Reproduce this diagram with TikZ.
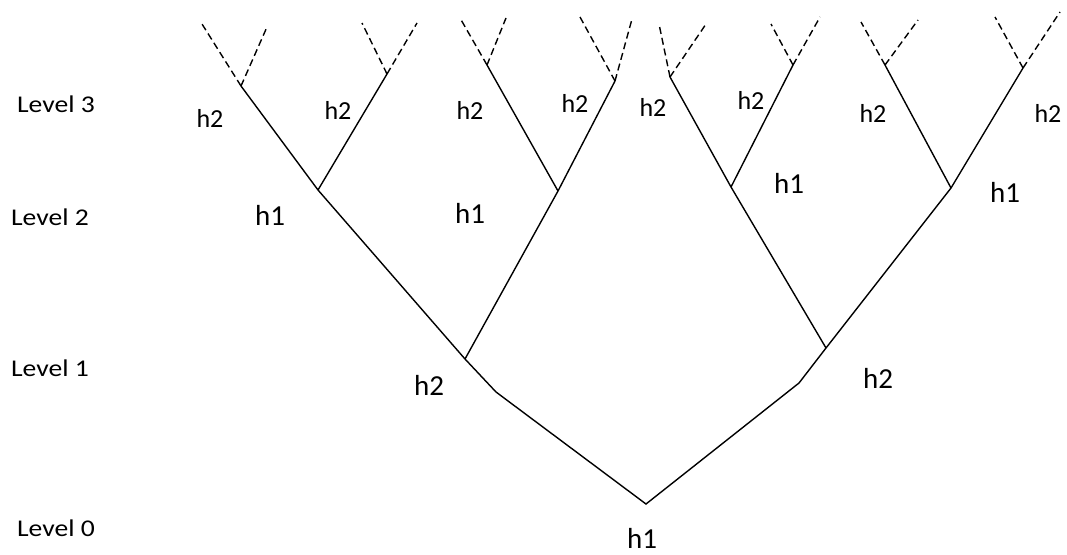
\documentclass[tikz,border=0pt]{standalone}
\usepackage{fontspec}
\setmainfont{Carlito}
\begin{document}
\begin{tikzpicture}[x=1pt,y=-1pt,
  edge/.style={line width=1.4pt},
  leafedge/.style={line width=1.4pt,dash pattern=on 7pt off 4pt},
  levellbl/.style={font=\fontsize{24}{28}\selectfont,inner sep=0pt,xscale=1.15,transform shape},
  biglbl/.style={font=\fontsize{29}{34}\selectfont,inner sep=0pt},
  smalllbl/.style={font=\fontsize{26}{30}\selectfont,inner sep=0pt}]
\useasboundingbox (0,0) rectangle (1067,554);

% branch points
\coordinate (R)  at (646,504);
\coordinate (Lb) at (496,392);
\coordinate (L1) at (465,359);
\coordinate (Rb) at (799,383);
\coordinate (R1) at (826,348);
\coordinate (B)  at (318,190);
\coordinate (D)  at (558,191);
\coordinate (F)  at (731,187);
\coordinate (G)  at (951,188);
\coordinate (A)  at (241,86);
\coordinate (C)  at (387,74);
\coordinate (E1) at (487,65);
\coordinate (E2) at (615,81);
\coordinate (E3) at (670,77);
\coordinate (E4) at (793,65);
\coordinate (E5) at (885,65);
\coordinate (E6) at (1023,68);

% open ends of the dashed branches
\coordinate (A1) at (202,24);  \coordinate (A2) at (267,27);
\coordinate (C1) at (362,23);  \coordinate (C2) at (417,23);
\coordinate (P1) at (460,18);  \coordinate (P2) at (506,18);
\coordinate (Q1) at (580,17);  \coordinate (Q2) at (632,19);
\coordinate (S1) at (659,24);  \coordinate (S2) at (706,24);
\coordinate (T1) at (771,24);  \coordinate (T2) at (820,17);
\coordinate (U1) at (861,22);  \coordinate (U2) at (918,20);
\coordinate (V1) at (995,17);  \coordinate (V2) at (1060,12);

% solid tree
\draw[edge] (L1) -- (Lb) -- (R) -- (Rb) -- (R1);
\draw[edge] (L1) -- (B);
\draw[edge] (L1) -- (D);
\draw[edge] (R1) -- (F);
\draw[edge] (R1) -- (G);
\draw[edge] (B) -- (A);
\draw[edge] (B) -- (C);
\draw[edge] (D) -- (E1);
\draw[edge] (D) -- (E2);
\draw[edge] (F) -- (E3);
\draw[edge] (F) -- (E4);
\draw[edge] (G) -- (E5);
\draw[edge] (G) -- (E6);

% dashed continuation
\foreach \p/\a/\b in {A/A1/A2, C/C1/C2, E1/P1/P2, E2/Q1/Q2, E3/S1/S2, E4/T1/T2, E5/U1/U2, E6/V1/V2}
  {\draw[leafedge] (\p) -- (\a); \draw[leafedge] (\p) -- (\b);}

% level captions
\node[levellbl] (lv3) at (56,104) {Level 3};
\node[levellbl] (lv2) at (50,217) {Level 2};
\node[levellbl] (lv1) at (50,368) {Level 1};
\node[levellbl] (lv0) at (56,528) {Level 0};

% labels
\node[smalllbl] (a3) at (210,118) {h2};
\node[smalllbl] (b3) at (338,110) {h2};
\node[smalllbl] (c3) at (470,110) {h2};
\node[smalllbl] (d3) at (575,103) {h2};
\node[smalllbl] (e3) at (653,107) {h2};
\node[smalllbl] (f3) at (751,100) {h2};
\node[smalllbl] (g3) at (873,113) {h2};
\node[smalllbl] (h3) at (1048,113) {h2};

\node[biglbl] (a2) at (270,215) {h1};
\node[biglbl] (b2) at (470,213) {h1};
\node[biglbl] (c2) at (789,183) {h1};
\node[biglbl] (d2) at (1005,192) {h1};

\node[biglbl] (a1) at (429,385) {h2};
\node[biglbl] (b1) at (878,378) {h2};

\node[biglbl] (r0) at (642,538) {h1};
\end{tikzpicture}
\end{document}
